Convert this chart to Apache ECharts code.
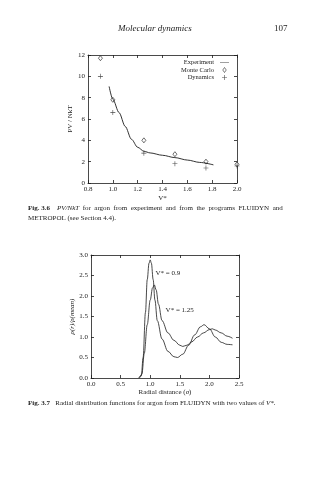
<!DOCTYPE html>
<html><head><meta charset="utf-8">
<script src="https://cdn.jsdelivr.net/npm/echarts@6/dist/echarts.min.js"></script>
<style>html,body{margin:0;padding:0;background:#fff}#c{width:315px;height:480px}</style>
</head><body><div id="c"></div>
<script>
// ---- Fig 3.6 data ----
const expX = [0.97, 1.0, 1.05, 1.1, 1.15, 1.2, 1.25, 1.3, 1.4, 1.5, 1.6, 1.7, 1.81];
const expY = [9.05, 7.85, 6.6, 5.3, 4.1, 3.35, 2.98, 2.82, 2.6, 2.38, 2.15, 1.93, 1.7];
const mcX = [0.9, 1.0, 1.25, 1.5, 1.75, 2.0];
const mcY = [11.7, 7.8, 4.0, 2.7, 2.0, 1.75];
const dynX = [0.9, 1.0, 1.25, 1.5, 1.75, 2.0];
const dynY = [10.0, 6.6, 2.8, 1.8, 1.4, 1.6];
const legendNames = ['Experiment', 'Monte Carlo', 'Dynamics'];

// ---- Fig 3.7 data ----
const r09 = [0.80, 0.85, 0.88, 0.92, 0.95, 0.98, 1.0, 1.02, 1.05, 1.08, 1.12, 1.2, 1.3, 1.4, 1.46, 1.55, 1.65, 1.75, 1.85, 1.91, 2.0, 2.1, 2.2, 2.3, 2.39];
const g09 = [0.0, 0.05, 0.5, 1.6, 2.4, 2.8, 2.88, 2.8, 2.4, 1.9, 1.4, 0.95, 0.65, 0.52, 0.5, 0.58, 0.8, 1.05, 1.25, 1.3, 1.2, 1.0, 0.87, 0.82, 0.81];
const r125 = [0.82, 0.86, 0.9, 0.95, 1.0, 1.04, 1.07, 1.1, 1.14, 1.2, 1.3, 1.4, 1.5, 1.55, 1.62, 1.7, 1.8, 1.9, 2.0, 2.05, 2.1, 2.2, 2.3, 2.39];
const g125 = [0.0, 0.1, 0.6, 1.3, 1.9, 2.2, 2.27, 2.15, 1.8, 1.4, 1.1, 0.92, 0.8, 0.77, 0.8, 0.88, 1.0, 1.1, 1.18, 1.2, 1.17, 1.1, 1.02, 0.97];
const curveLabels = ['V* = 0.9', 'V* = 1.25'];

const FONT = 'Liberation Serif';
const INK = '#1c1c1c';
const zip = (a, b) => a.map((v, i) => [v, b[i]]);
const PLUS = 'path://M4.4,0H5.6V4.4H10V5.6H5.6V10H4.4V5.6H0V4.4H4.4Z';
const DIAMOND = 'path://M5,0L8.5,5L5,10L1.5,5Z';

function ax(grid, pos, min, max, interval, labels, dec, extra) {
  return Object.assign({
    gridIndex: grid, type: 'value', position: pos, min: min, max: max, interval: interval,
    axisLine: { show: true, onZero: false, lineStyle: { color: INK, width: 0.8 } },
    axisTick: { show: true, inside: true, length: 3, lineStyle: { color: INK, width: 0.8 } },
    axisLabel: { show: labels, fontSize: 7, fontFamily: FONT, color: INK, margin: 3,
      formatter: v => v.toFixed(dec) },
    splitLine: { show: false }
  }, extra || {});
}

const chart = echarts.init(document.getElementById('c'), null, { renderer: 'canvas' });
chart.setOption({
  backgroundColor: '#ffffff',
  animation: false,
  grid: [
    { left: 88, top: 55, width: 149, height: 128 },
    { left: 91, top: 255, width: 148, height: 123 }
  ],
  xAxis: [
    ax(0, 'bottom', 0.8, 2.0, 0.2, true, 1, { name: 'V*', nameLocation: 'middle', nameGap: 12,
      nameTextStyle: { fontSize: 7, fontFamily: FONT, color: INK } }),
    ax(0, 'top', 0.8, 2.0, 0.2, false, 1),
    ax(1, 'bottom', 0, 2.5, 0.5, true, 1, { name: '{a|Radial distance (}{i|σ}{a|)}', nameLocation: 'middle', nameGap: 11,
      nameTextStyle: { fontSize: 7, fontFamily: FONT, color: INK,
        rich: { a: { fontSize: 7, fontFamily: FONT, color: INK }, i: { fontSize: 7, fontFamily: FONT, color: INK, fontStyle: 'italic' } } } }),
    ax(1, 'top', 0, 2.5, 0.5, false, 1)
  ],
  yAxis: [
    ax(0, 'left', 0, 12, 2, true, 0, { name: 'PV / NkT', nameLocation: 'middle', nameGap: 9, nameRotate: 90,
      nameTextStyle: { fontSize: 7, fontFamily: FONT, color: INK } }),
    ax(0, 'right', 0, 12, 2, false, 0),
    ax(1, 'left', 0, 3, 0.5, true, 1, { name: 'ρ(r)/ρ(mean)', nameLocation: 'middle', nameGap: 13, nameRotate: 90,
      nameTextStyle: { fontSize: 7, fontFamily: FONT, color: INK, fontStyle: 'italic' } }),
    ax(1, 'right', 0, 3, 0.5, false, 1)
  ],
  legend: {
    orient: 'vertical', right: 86, top: 59, align: 'right', padding: 0,
    itemWidth: 9, itemHeight: 5, itemGap: 0.5, symbolKeepAspect: true,
    textStyle: { fontSize: 6.5, fontFamily: FONT, color: INK, padding: [0, 1, 0, 0] },
    data: [
      { name: legendNames[0], icon: 'path://M0,0H10V0.9H0Z', itemStyle: { color: '#8a8a8a', borderWidth: 0 } },
      { name: legendNames[1], icon: DIAMOND, itemStyle: { color: '#fff', borderColor: INK, borderWidth: 0.7 } },
      { name: legendNames[2], icon: PLUS, itemStyle: { color: INK, borderWidth: 0 } }
    ]
  },
  series: [
    { name: legendNames[0], type: 'line', xAxisIndex: 0, yAxisIndex: 0, data: zip(expX, expY),
      smooth: 0.3, smoothMonotone: 'x', symbol: 'none', lineStyle: { color: INK, width: 0.9 },
      itemStyle: { color: '#8a8a8a' } },
    { name: legendNames[1], type: 'scatter', xAxisIndex: 0, yAxisIndex: 0, data: zip(mcX, mcY),
      symbol: 'diamond', symbolSize: [4, 5],
      itemStyle: { color: '#fff', borderColor: INK, borderWidth: 0.8 } },
    { name: legendNames[2], type: 'scatter', xAxisIndex: 0, yAxisIndex: 0, data: zip(dynX, dynY),
      symbol: PLUS, symbolSize: 5,
      itemStyle: { color: INK } },
    { name: curveLabels[0], type: 'line', xAxisIndex: 2, yAxisIndex: 2, data: zip(r09, g09),
      smooth: 0.35, smoothMonotone: 'x', symbol: 'none', lineStyle: { color: INK, width: 0.8 },
      markPoint: { symbolSize: 0, silent: true,
        label: { show: true, position: 'right', distance: 0, formatter: curveLabels[0], fontSize: 7, fontFamily: FONT, color: INK },
        data: [{ coord: [1.09, 2.56] }] } },
    { name: curveLabels[1], type: 'line', xAxisIndex: 2, yAxisIndex: 2, data: zip(r125, g125),
      smooth: 0.35, smoothMonotone: 'x', symbol: 'none', lineStyle: { color: INK, width: 0.8 },
      markPoint: { symbolSize: 0, silent: true,
        label: { show: true, position: 'right', distance: 0, formatter: curveLabels[1], fontSize: 7, fontFamily: FONT, color: INK },
        data: [{ coord: [1.26, 1.66] }] } }
  ],
  graphic: [
    { type: 'text', left: 118, top: 24, style: { text: 'Molecular dynamics', font: 'italic 9px "Liberation Serif"', fill: INK } },
    { type: 'text', left: 274, top: 24, style: { text: '107', font: '9px "Liberation Serif"', fill: INK } },
    { type: 'text', left: 28, top: 203, style: {
      text: '{b|Fig. 3.6}    {i|PV/NkT}  for  argon  from  experiment  and  from  the  programs  FLUIDYN  and\nMETROPOL (see Section 4.4).',
      font: '7px "Liberation Serif"', fill: INK, lineHeight: 10,
      rich: { b: { font: 'bold 7px "Liberation Serif"', fill: INK }, i: { font: 'italic 7px "Liberation Serif"', fill: INK } } } },
    { type: 'text', left: 28, top: 400, style: {
      text: '{b|Fig. 3.7}   Radial distribution functions for argon from FLUIDYN with two values of {i|V*}.',
      font: '7px "Liberation Serif"', fill: INK,
      rich: { b: { font: 'bold 7px "Liberation Serif"', fill: INK }, i: { font: 'italic 7px "Liberation Serif"', fill: INK } } } }
  ]
});
</script></body></html>
